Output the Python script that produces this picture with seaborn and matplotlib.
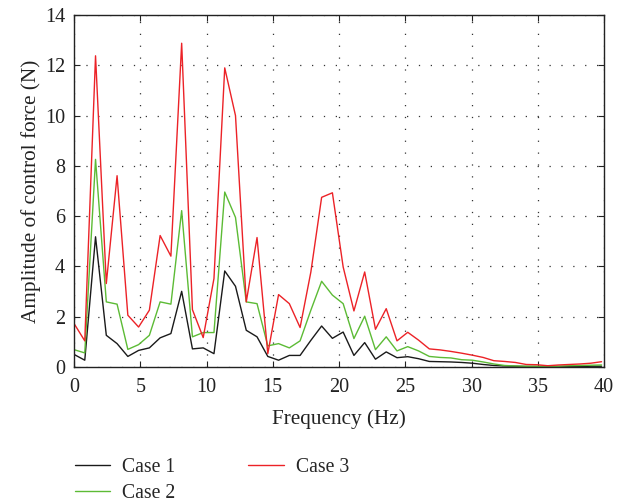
import numpy as np
import pandas as pd
import matplotlib
matplotlib.use("Agg")
import matplotlib.pyplot as plt
import seaborn as sns

# Frequency grid (Hz)
freq = np.arange(50) * 0.8125

case1 = [0.50, 0.27, 5.18, 1.26, 0.93, 0.42, 0.66, 0.76, 1.16, 1.33,
         3.01, 0.72, 0.76, 0.53, 3.82, 3.21, 1.46, 1.20, 0.42, 0.27,
         0.46, 0.46, 1.06, 1.63, 1.14, 1.39, 0.46, 0.97, 0.31, 0.60,
         0.37, 0.41, 0.33, 0.22, 0.21, 0.20, 0.18, 0.15, 0.10, 0.06,
         0.04, 0.03, 0.02, 0.02, 0.02, 0.02, 0.02, 0.02, 0.03, 0.03]
case2 = [0.69, 0.56, 8.26, 2.59, 2.50, 0.70, 0.89, 1.26, 2.59, 2.50,
         6.22, 1.20, 1.37, 1.37, 6.96, 5.95, 2.59, 2.52, 0.84, 0.93,
         0.76, 1.04, 2.26, 3.41, 2.86, 2.52, 1.13, 2.02, 0.69, 1.20,
         0.64, 0.81, 0.64, 0.42, 0.38, 0.36, 0.29, 0.27, 0.20, 0.12,
         0.06, 0.04, 0.03, 0.03, 0.03, 0.03, 0.05, 0.06, 0.07, 0.08]
case3 = [1.73, 1.04, 12.38, 3.32, 7.61, 2.06, 1.59, 2.26, 5.23, 4.41,
         12.88, 2.28, 1.17, 3.52, 11.90, 10.00, 2.59, 5.15, 0.53, 2.88,
         2.52, 1.57, 3.78, 6.75, 6.93, 3.98, 2.23, 3.78, 1.50, 2.32,
         1.04, 1.38, 1.07, 0.72, 0.68, 0.62, 0.55, 0.47, 0.38, 0.25,
         0.22, 0.18, 0.10, 0.09, 0.05, 0.08, 0.10, 0.12, 0.15, 0.21]

labels = ["Case 1", "Case 2", "Case 3"]
colors = ["#1a1a1a", "#5cbb35", "#ec2227"]
xticks = [0, 5, 10, 15, 20, 25, 30, 35, 40]
yticks = [0, 2, 4, 6, 8, 10, 12, 14]

df = pd.DataFrame({
    "Frequency": np.concatenate([freq, freq, freq]),
    "Amplitude": np.concatenate([case1, case2, case3]),
    "Case": np.repeat(labels, len(freq)),
})

sns.set_style("ticks")
plt.rcParams["font.family"] = ["Liberation Serif", "DejaVu Serif"]

fig = plt.figure(figsize=(6.24, 5.03), dpi=100)
ax = fig.add_axes([0.1186, 0.2704, 0.8494, 0.6996])

sns.lineplot(data=df, x="Frequency", y="Amplitude", hue="Case",
             palette=dict(zip(labels, colors)), linewidth=1.0,
             ax=ax, legend=False)

ax.set_xlim(0, 40)
ax.set_ylim(0, 14)
ax.set_xticks(xticks)
ax.set_yticks(yticks)
ax.tick_params(direction="in", top=True, right=True, length=4,
               labelsize=14.5, colors="#222222")
ax.tick_params(axis="y", pad=6.5)
ax.tick_params(axis="x", pad=8)
ax.grid(True, color="#333333", linestyle=(0, (1, 8.5)), linewidth=0.9)
for s in ax.spines.values():
    s.set_color("#222222")
    s.set_linewidth(1.0)

ax.set_xlabel("Frequency (Hz)", fontsize=15.3, color="#222222", labelpad=9)
ax.set_ylabel("Amplitude of control force (N)", fontsize=15.3,
              color="#222222", labelpad=2.5)

handles = [plt.Line2D([], [], color=c, linewidth=1.0) for c in colors]
fig.legend(handles, labels, ncol=2, loc="upper left",
           bbox_to_anchor=(0.104, 0.109), frameon=False, fontsize=14.2,
           borderpad=0, handlelength=1.8, columnspacing=3.7,
           labelspacing=0.36, handletextpad=0.6)

fig.savefig("out.png", dpi=100)
